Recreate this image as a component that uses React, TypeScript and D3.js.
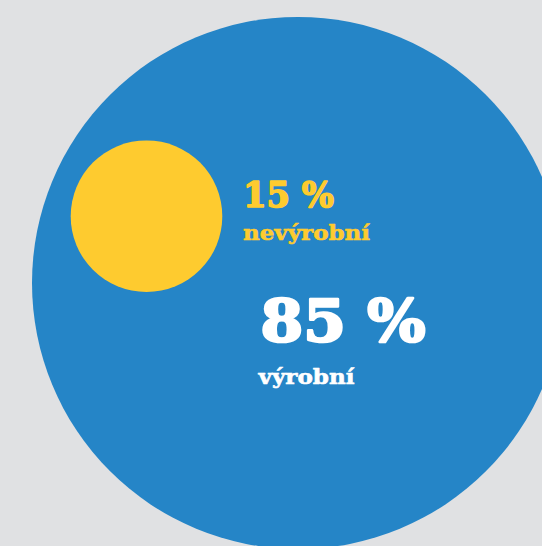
import React from "react";
import * as d3 from "d3";

const categories = ["nevýrobní", "výrobní"];
const values = [15, 85];
const valueLabels = ["15 %", "85 %"];
const colors = ["#fecb2f", "#2585c7"];

const W = 542;
const H = 546;
const BG = "#e0e1e3";
const FONT = "'DejaVu Serif', serif";

export default function App() {
  // radius scale fitted to the picture
  const r = d3.scaleLinear().domain([15, 85]).range([75.8, 266]);

  const big = { cx: 298, cy: 283 };
  const small = { cx: 146.5, cy: 216.2 };

  const txt = (
    label: string,
    x: number,
    y: number,
    size: number,
    len: number,
    fill: string,
    sw: number
  ) => (
    <text
      x={x}
      y={y}
      fill={fill}
      stroke={fill}
      strokeWidth={sw}
      strokeLinejoin="round"
      fontFamily={FONT}
      fontWeight="bold"
      fontSize={size}
      textLength={len}
      lengthAdjust="spacingAndGlyphs"
    >
      {label}
    </text>
  );

  return (
    <svg
      width={W}
      height={H}
      style={{ position: "absolute", left: 0, top: 0, background: BG }}
    >
      <rect width={W} height={H} fill={BG} />
      <circle cx={big.cx} cy={big.cy} r={r(values[1])} fill={colors[1]} />
      <circle cx={small.cx} cy={small.cy} r={r(values[0])} fill={colors[0]} />

      {txt(valueLabels[0], 243, 207.2, 35, 91, colors[0], 1.6)}
      {txt(categories[0], 243, 240, 20.5, 127, colors[0], 0.6)}
      {txt(valueLabels[1], 260.5, 340.5, 58, 165, "#ffffff", 2.6)}
      {txt(categories[1], 258.5, 384, 20.5, 96, "#ffffff", 0.6)}
    </svg>
  );
}
